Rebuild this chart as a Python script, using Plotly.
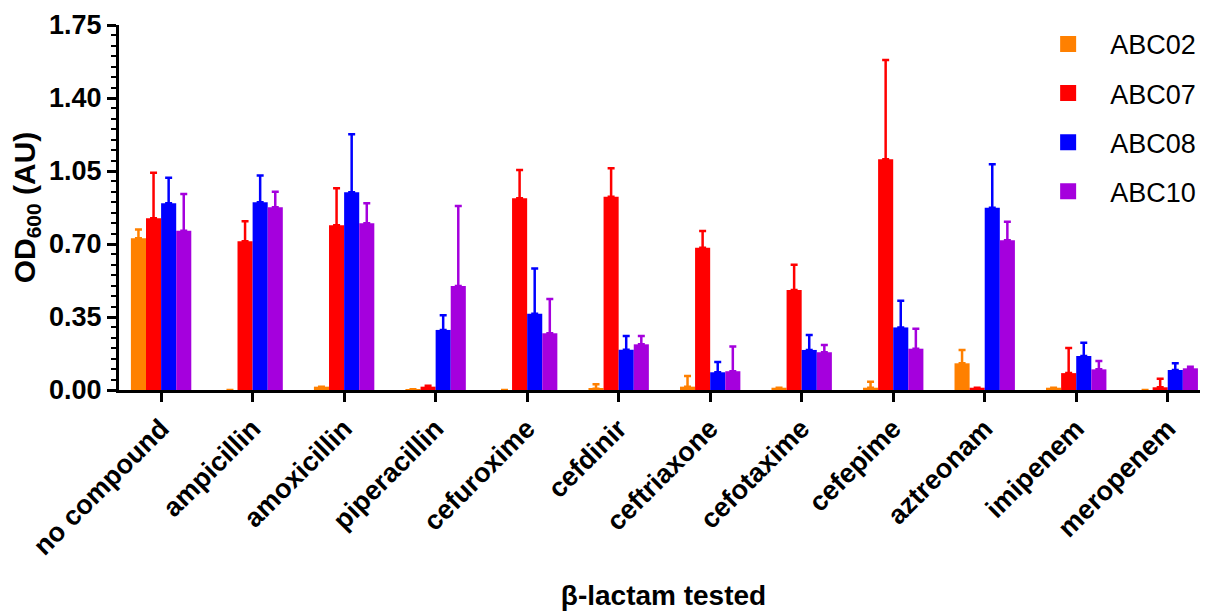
import plotly.graph_objects as go

categories = ["no compound", "ampicillin", "amoxicillin", "piperacillin", "cefuroxime",
              "cefdinir", "ceftriaxone", "cefotaxime", "cefepime", "aztreonam",
              "imipenem", "meropenem"]

series_names = ["ABC02", "ABC07", "ABC08", "ABC10"]

abc02_mean = [0.727, 0.0, 0.016, 0.004, 0.0, 0.006, 0.016, 0.011, 0.011, 0.128, 0.011, 0.0]
abc02_err = [0.043, 0.0, 0.0, 0.0, 0.0, 0.021, 0.051, 0.0, 0.029, 0.064, 0.0, 0.0]

abc07_mean = [0.823, 0.713, 0.790, 0.016, 0.919, 0.927, 0.682, 0.479, 1.106, 0.011, 0.081, 0.013]
abc07_err = [0.219, 0.096, 0.177, 0.004, 0.136, 0.136, 0.080, 0.122, 0.476, 0.0, 0.120, 0.041]

abc08_mean = [0.895, 0.900, 0.948, 0.288, 0.366, 0.193, 0.085, 0.192, 0.300, 0.874, 0.163, 0.096]
abc08_err = [0.123, 0.129, 0.278, 0.070, 0.216, 0.066, 0.049, 0.072, 0.128, 0.208, 0.064, 0.032]

abc10_mean = [0.764, 0.876, 0.799, 0.499, 0.272, 0.219, 0.090, 0.181, 0.198, 0.718, 0.099, 0.104]
abc10_err = [0.176, 0.075, 0.096, 0.383, 0.164, 0.040, 0.118, 0.035, 0.096, 0.089, 0.040, 0.008]

y_ticks = [0.0, 0.35, 0.70, 1.05, 1.40, 1.75]
y_tick_labels = ["0.00", "0.35", "0.70", "1.05", "1.40", "1.75"]

colors = ["#FF8000", "#FF0000", "#0000FF", "#A500DD"]
means = [abc02_mean, abc07_mean, abc08_mean, abc10_mean]
errs = [abc02_err, abc07_err, abc08_err, abc10_err]

FONT = "Liberation Sans, Arial, sans-serif"

fig = go.Figure()
for name, m, e, c in zip(series_names, means, errs, colors):
    fig.add_trace(go.Bar(
        x=categories, y=m, name=name, marker=dict(color=c, line=dict(width=0)),
        error_y=dict(type="data", array=e, arrayminus=[0] * len(e), symmetric=False,
                     color=c, thickness=2.5, width=3.5, visible=True),
        showlegend=False,
    ))

for name, c in zip(series_names, colors):
    fig.add_trace(go.Scatter(
        x=[None], y=[None], mode="markers", name=name,
        marker=dict(symbol="square", size=16, color=c),
        legendgroup=name, showlegend=True,
    ))

fig.update_layout(
    width=1200, height=603,
    margin=dict(l=111, r=0, t=17, b=221),
    paper_bgcolor="white", plot_bgcolor="white",
    barmode="group", bargap=0.34, bargroupgap=0.0,
    font=dict(family=FONT, color="black"),
    legend=dict(
        x=0.833, y=1.014, xanchor="left", yanchor="top",
        font=dict(family=FONT, size=27, color="black"),
        tracegroupgap=11, itemwidth=74, bgcolor="rgba(0,0,0,0)",
    ),
    xaxis=dict(
        type="category", range=[-0.46, 11.44], automargin=False,
        showline=True, linecolor="black", linewidth=3,
        ticks="outside", ticklen=9, tickwidth=3, tickcolor="black",
        tickangle=-45, showgrid=False, zeroline=False,
        tickfont=dict(family=FONT, size=27, color="black", weight="bold"),
        title=dict(text="β-lactam tested", standoff=30,
                   font=dict(family=FONT, size=28, color="black", weight="bold")),
    ),
    yaxis=dict(
        range=[0, 1.75], tickvals=y_ticks, ticktext=y_tick_labels, automargin=False,
        showline=True, linecolor="black", linewidth=3,
        ticks="outside", ticklen=9, tickwidth=3, tickcolor="black",
        minor=dict(dtick=0.05, ticks="outside", ticklen=5, tickwidth=2, tickcolor="black"),
        showgrid=False, zeroline=False,
        tickfont=dict(family=FONT, size=27, color="black", weight="bold"),
        title=dict(text="OD<sub>600</sub> (AU)", standoff=6,
                   font=dict(family=FONT, size=30, color="black", weight="bold")),
    ),
)

fig.write_html("out.html")
